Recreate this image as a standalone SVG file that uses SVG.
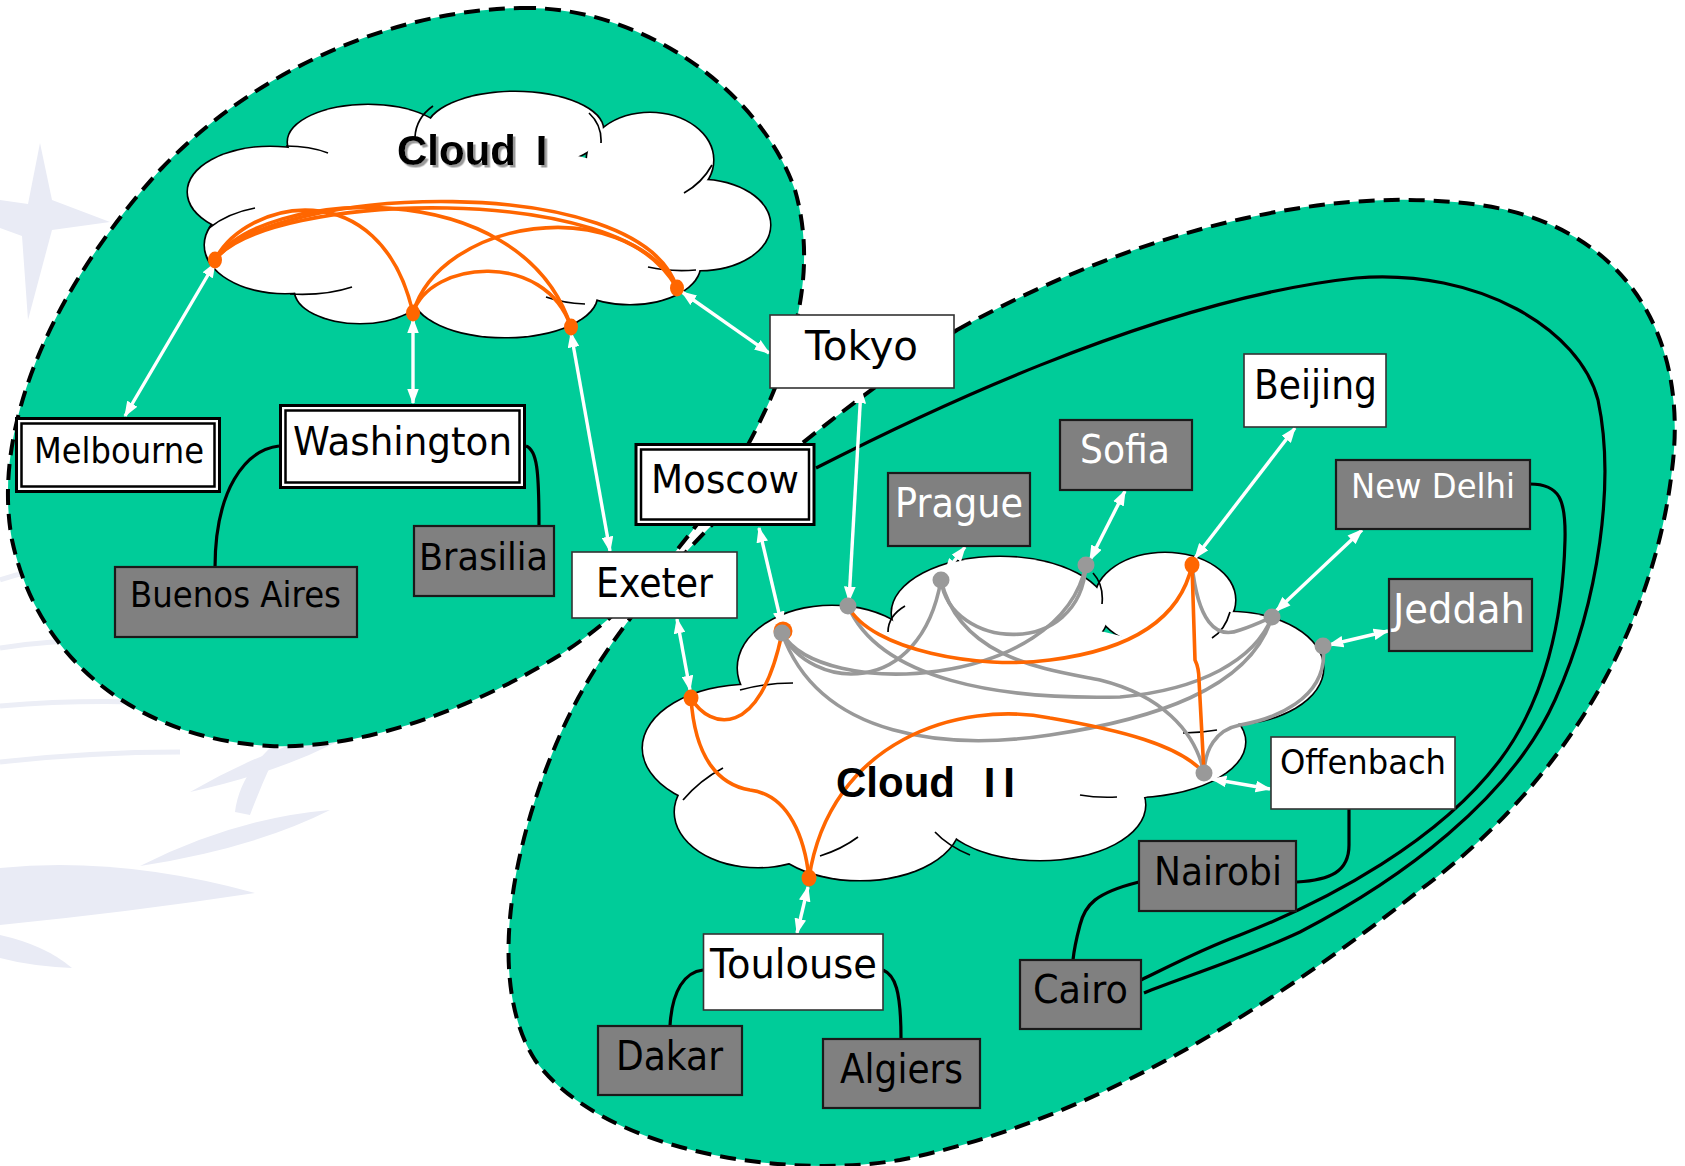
<svg xmlns="http://www.w3.org/2000/svg" width="1685" height="1166" viewBox="0 0 1685 1166">
<defs>
<style>
.blob{fill:#00CC99;stroke:#000;stroke-width:4;stroke-dasharray:16 9}
.cs{fill:#fff;stroke:#000;stroke-width:3.2}
.cf{fill:#fff}
.curl{fill:none;stroke:#000;stroke-width:1.7}
.or{fill:none;stroke:#FF6600;stroke-width:3.6}
.gr{fill:none;stroke:#999;stroke-width:3.6}
.bk{fill:none;stroke:#000;stroke-width:3.2}
.wa{fill:none;stroke:#fff;stroke-width:3.4;marker-start:url(#ah);marker-end:url(#ah)}
.od{fill:#FF6600}
.gd{fill:#999}
.wb{fill:#fff;stroke:#333;stroke-width:1.6}
.gb{fill:#808080;stroke:#1a1a1a;stroke-width:2.2}
.db{fill:#fff;stroke:#000;stroke-width:3}
.di{fill:none;stroke:#000;stroke-width:2.5}
.t{font-family:'DejaVu Sans',Verdana,sans-serif;fill:#000}
.tw{fill:#fff}
.ct{font-family:'Liberation Sans',Arial,sans-serif;font-weight:bold;font-size:42px;fill:#000}
.wm{fill:#e9ebf5}
.wl{fill:none;stroke:#eceef6;stroke-width:5}
</style>
<marker id="ah" viewBox="0 0 12 9" refX="11" refY="4.5" markerWidth="4.6" markerHeight="3.5" orient="auto-start-reverse" markerUnits="strokeWidth"><path d="M0,0 L12,4.5 L0,9 z" fill="#fff"/></marker>
<filter id="sh" x="-10%" y="-20%" width="130%" height="150%"><feDropShadow dx="2.5" dy="2.5" stdDeviation="0.4" flood-color="#9a9a9a" flood-opacity="1"/></filter>
</defs>
<rect width="1685" height="1166" fill="#fff"/>
<g id="watermark">
<path class="wm" d="M40 143 L52 200 L110 222 L52 230 L28 320 L22 236 L0 228 L0 200 L28 204 Z"/>
<path class="wl" d="M0 580 Q 30 570 60 566 M0 648 Q 50 640 110 640 M0 706 Q 70 700 140 702 M0 762 Q 90 752 180 752"/>
<path class="wm" d="M0 868 Q 120 856 255 893 Q 130 912 0 925 Z"/>
<path class="wm" d="M140 866 Q 235 818 330 810 Q 255 848 140 866 Z"/>
<path class="wm" d="M190 792 Q 280 740 372 722 Q 300 768 190 792 Z"/>
<path class="wm" d="M0 935 Q 45 945 72 968 Q 30 966 0 958 Z"/>
<path class="wm" d="M235 812 Q 240 770 285 735 Q 265 775 250 815 Z"/>
</g>
<g id="blob-1">
<path class="blob" d="M520 8 C 640 5, 760 90, 795 190 C 815 260, 800 330, 770 400 C 730 490, 660 590, 560 655 C 470 710, 360 750, 270 746 C 150 740, 40 670, 12 540 C -10 420, 60 280, 160 170 C 260 65, 400 10, 520 8 Z"/>
</g>
<g id="blob-2">
<path class="blob" d="M957 330 C 1100 250, 1300 180, 1480 205 C 1620 225, 1690 330, 1672 470 C 1655 620, 1570 780, 1420 890 C 1280 1000, 1100 1120, 900 1160 C 780 1180, 600 1150, 535 1060 C 490 990, 505 860, 560 735 C 610 620, 720 510, 800 445 C 850 405, 910 360, 957 330 Z"/>
</g>
<g id="cloud-1">
<g class="cs">
<ellipse cx="270" cy="192" rx="82" ry="45"/><ellipse cx="368" cy="142" rx="80" ry="37"/><ellipse cx="515" cy="130" rx="88" ry="38"/><ellipse cx="650" cy="160" rx="63" ry="47"/><ellipse cx="700" cy="225" rx="70" ry="45"/><ellipse cx="630" cy="265" rx="70" ry="39"/><ellipse cx="505" cy="295" rx="92" ry="42"/><ellipse cx="360" cy="290" rx="65" ry="33"/><ellipse cx="285" cy="245" rx="80" ry="48"/>
</g>
<g class="cf">
<ellipse cx="270" cy="192" rx="82" ry="45"/><ellipse cx="368" cy="142" rx="80" ry="37"/><ellipse cx="515" cy="130" rx="88" ry="38"/><ellipse cx="650" cy="160" rx="63" ry="47"/><ellipse cx="700" cy="225" rx="70" ry="45"/><ellipse cx="630" cy="265" rx="70" ry="39"/><ellipse cx="505" cy="295" rx="92" ry="42"/><ellipse cx="360" cy="290" rx="65" ry="33"/><ellipse cx="285" cy="245" rx="80" ry="48"/><ellipse cx="470" cy="215" rx="200" ry="70"/>
</g>
<path class="curl" d="M286 146 Q 310 146 328 153 M433 106 Q 416 118 415 137 M589 113 Q 602 125 601 143 M712 165 Q 702 183 684 193 M696 270 Q 670 272 648 267 M585 304 Q 563 303 546 297 M290 294 Q 325 296 352 287 M209 228 Q 228 213 255 208"/>
</g>
<g id="cloud-2">
<g class="cs">
<ellipse cx="832" cy="668" rx="94" ry="62"/><ellipse cx="1000" cy="613" rx="108" ry="56"/><ellipse cx="1165" cy="600" rx="70" ry="47"/><ellipse cx="1228" cy="668" rx="95" ry="56"/><ellipse cx="1130" cy="742" rx="115" ry="55"/><ellipse cx="1040" cy="805" rx="105" ry="55"/><ellipse cx="860" cy="822" rx="100" ry="58"/><ellipse cx="758" cy="812" rx="83" ry="55"/><ellipse cx="750" cy="748" rx="107" ry="63"/>
</g>
<g class="cf">
<ellipse cx="832" cy="668" rx="94" ry="62"/><ellipse cx="1000" cy="613" rx="108" ry="56"/><ellipse cx="1165" cy="600" rx="70" ry="47"/><ellipse cx="1228" cy="668" rx="95" ry="56"/><ellipse cx="1130" cy="742" rx="115" ry="55"/><ellipse cx="1040" cy="805" rx="105" ry="55"/><ellipse cx="860" cy="822" rx="100" ry="58"/><ellipse cx="758" cy="812" rx="83" ry="55"/><ellipse cx="750" cy="748" rx="107" ry="63"/><ellipse cx="985" cy="720" rx="250" ry="100"/>
</g>
<path class="curl" d="M740 690 Q 765 683 793 683 M905 606 Q 888 616 888 632 M1093 573 Q 1104 585 1102 604 M1230 612 Q 1225 630 1212 638 M1217 730 Q 1200 733 1183 733 M1117 797 Q 1097 798 1080 795 M970 855 Q 948 846 935 832 M820 856 Q 842 849 858 837 M683 800 Q 700 780 723 768"/>
</g>
<g id="connectors">
<g class="or">
<path d="M215 260 C 245 200, 380 170, 413 313"/>
<path d="M215 260 C 260 190, 520 170, 571 327"/>
<path d="M215 260 C 270 185, 640 170, 677 288"/>
<path d="M215 260 C 265 192, 630 180, 677 288"/>
<path d="M413 313 C 440 220, 620 190, 677 288"/>
<path d="M413 313 C 430 260, 545 250, 571 327"/>
</g>
<g class="gr">
<path d="M782 633 C 810 690, 920 700, 941 580"/>
<path d="M782 633 C 820 700, 1060 690, 1086 565"/>
<path d="M782 633 C 820 740, 950 750, 1050 735 C 1150 720, 1250 690, 1272 617"/>
<path d="M848 606 C 880 680, 1000 700, 1120 697 C 1200 690, 1255 660, 1272 617"/>
<path d="M941 580 C 950 650, 1080 660, 1086 565"/>
<path d="M941 580 C 960 660, 1050 670, 1100 680 C 1160 695, 1195 730, 1204 773"/>
<path d="M1192 565 C 1198 620, 1215 640, 1240 630 C 1255 625, 1265 620, 1272 617"/>
<path d="M1323 646 C 1330 700, 1270 720, 1240 725 C 1215 730, 1205 750, 1204 773"/>
</g>
<g class="or">
<path d="M691 698 C 710 730, 760 740, 782 633"/>
<path d="M691 698 C 695 760, 720 785, 750 790 C 790 795, 805 840, 809 878"/>
<path d="M809 878 C 830 740, 960 700, 1050 718 C 1120 730, 1180 745, 1204 773"/>
<path d="M848 606 C 870 650, 980 670, 1050 660 C 1130 650, 1180 620, 1192 565"/>
<path d="M1192 565 L 1195 660 Q 1199 668 1199 680 L 1204 773"/>
</g>
<g class="bk">
<path d="M279 446 C 245 450, 215 490, 215 568"/>
<path d="M526 446 C 537 450, 539 470, 539 526"/>
<path d="M816 468 C 900 425, 1150 300, 1356 278 C 1480 268, 1580 330, 1598 400 C 1615 480, 1600 600, 1555 700 C 1510 800, 1400 880, 1300 932 C 1240 960, 1180 978, 1144 993"/>
<path d="M1530 484 C 1560 484, 1566 500, 1565 540 C 1563 620, 1545 700, 1500 760 C 1440 840, 1330 900, 1240 935 C 1200 950, 1170 966, 1141 980"/>
<path d="M1349 809 L 1349 845 C 1349 872, 1330 880, 1297 882"/>
<path d="M1139 882 C 1095 893, 1085 905, 1080 925 C 1076 940, 1074 950, 1073 960"/>
<path d="M703 970 C 685 972, 672 990, 670 1026"/>
<path d="M883 970 C 895 975, 901 990, 901 1039"/>
</g>
<g class="wa">
<path d="M215 263 L 125 416"/>
<path d="M413 319 L 413 403"/>
<path d="M571 333 L 610 551"/>
<path d="M682 292 L 769 353"/>
<path d="M759 528 L 782 626"/>
<path d="M861 389 L 849 601"/>
<path d="M965 547 L 945 573"/>
<path d="M1125 491 L 1090 560"/>
<path d="M1295 428 L 1195 558"/>
<path d="M1362 530 L 1276 611"/>
<path d="M1388 631 L 1329 645"/>
<path d="M1212 779 L 1270 789"/>
<path d="M677 619 L 690 690"/>
<path d="M808 887 L 797 933"/>
</g>
<g class="od">
<ellipse cx="215" cy="260" rx="7" ry="8.5"/><ellipse cx="413" cy="313" rx="7" ry="8.5"/><ellipse cx="571" cy="327" rx="7" ry="8.5"/><ellipse cx="677" cy="288" rx="7" ry="8.5"/>
<ellipse cx="691" cy="698" rx="7.5" ry="8.5"/><ellipse cx="809" cy="878" rx="7.5" ry="8.5"/><ellipse cx="1192" cy="565" rx="7.5" ry="8.5"/><circle cx="783" cy="631" r="9.5"/>
</g>
<g class="gd">
<circle cx="782" cy="633" r="8.5"/><circle cx="848" cy="606" r="8.5"/><circle cx="941" cy="580" r="8.5"/><circle cx="1086" cy="565" r="8.5"/><circle cx="1272" cy="617" r="8.5"/><circle cx="1323" cy="646" r="8.5"/><circle cx="1204" cy="773" r="8.5"/>
</g>
</g>
<g id="node-melbourne"><rect class="db" x="16.5" y="418.5" width="203" height="73"/><rect class="di" x="21.5" y="423.5" width="193" height="63"/><text class="t" x="34" y="463" font-size="35" textLength="170" lengthAdjust="spacingAndGlyphs">Melbourne</text></g>
<g id="node-washington"><rect class="db" x="280.5" y="405.5" width="244" height="82"/><rect class="di" x="285.5" y="410.5" width="234" height="72"/><text class="t" x="293" y="455" font-size="39" textLength="219" lengthAdjust="spacingAndGlyphs">Washington</text></g>
<g id="node-moscow"><rect class="db" x="636" y="444.5" width="178" height="80"/><rect class="di" x="641" y="449.5" width="168" height="70"/><text class="t" x="651" y="493" font-size="39" textLength="148" lengthAdjust="spacingAndGlyphs">Moscow</text></g>
<g id="node-buenos-aires"><rect class="gb" x="115" y="567" width="242" height="70"/><text class="t" x="130" y="607" font-size="36" textLength="211" lengthAdjust="spacingAndGlyphs" fill="#111">Buenos Aires</text></g>
<g id="node-brasilia"><rect class="gb" x="414" y="526" width="140" height="70"/><text class="t" x="419" y="570" font-size="37" textLength="129" lengthAdjust="spacingAndGlyphs">Brasilia</text></g>
<g id="node-exeter"><rect class="wb" x="572" y="552" width="165" height="66"/><text class="t" x="596" y="597" font-size="40" textLength="117" lengthAdjust="spacingAndGlyphs">Exeter</text></g>
<g id="node-tokyo"><rect class="wb" x="770" y="315" width="184" height="73"/><text class="t" x="805" y="360" font-size="41" textLength="113" lengthAdjust="spacingAndGlyphs">Tokyo</text></g>
<g id="node-prague"><rect class="gb" x="888" y="473" width="142" height="73"/><text class="t tw" x="895" y="517" font-size="40" textLength="128" lengthAdjust="spacingAndGlyphs">Prague</text></g>
<g id="node-sofia"><rect class="gb" x="1060" y="420" width="132" height="70"/><text class="t tw" x="1080" y="463" font-size="39" textLength="90" lengthAdjust="spacingAndGlyphs">Sofia</text></g>
<g id="node-beijing"><rect class="wb" x="1244" y="354" width="142" height="73"/><text class="t" x="1254" y="399" font-size="41" textLength="123" lengthAdjust="spacingAndGlyphs">Beijing</text></g>
<g id="node-new-delhi"><rect class="gb" x="1336" y="460" width="194" height="69"/><text class="t tw" x="1351" y="498" font-size="34" textLength="164" lengthAdjust="spacingAndGlyphs">New Delhi</text></g>
<g id="node-jeddah"><rect class="gb" x="1389" y="579" width="143" height="72"/><text class="t tw" x="1393" y="623" font-size="40" textLength="132" lengthAdjust="spacingAndGlyphs">Jeddah</text></g>
<g id="node-offenbach"><rect class="wb" x="1271" y="737" width="184" height="72"/><text class="t" x="1280" y="774" font-size="34" textLength="166" lengthAdjust="spacingAndGlyphs">Offenbach</text></g>
<g id="node-nairobi"><rect class="gb" x="1139" y="841" width="157" height="70"/><text class="t" x="1154" y="885" font-size="39" textLength="128" lengthAdjust="spacingAndGlyphs">Nairobi</text></g>
<g id="node-cairo"><rect class="gb" x="1020" y="960" width="121" height="69"/><text class="t" x="1033" y="1003" font-size="39" textLength="95" lengthAdjust="spacingAndGlyphs">Cairo</text></g>
<g id="node-toulouse"><rect class="wb" x="703.5" y="934" width="179.5" height="76"/><text class="t" x="710" y="978" font-size="40" textLength="167" lengthAdjust="spacingAndGlyphs">Toulouse</text></g>
<g id="node-dakar"><rect class="gb" x="598" y="1026" width="144" height="69"/><text class="t" x="616" y="1070" font-size="40" textLength="107" lengthAdjust="spacingAndGlyphs">Dakar</text></g>
<g id="node-algiers"><rect class="gb" x="823" y="1039" width="157" height="69"/><text class="t" x="840" y="1083" font-size="40" textLength="123" lengthAdjust="spacingAndGlyphs">Algiers</text></g>
<g id="label-cloud-1"><text class="ct" x="397" y="165" filter="url(#sh)">Cloud <tspan dx="8">I</tspan></text></g>
<g id="label-cloud-2"><text class="ct" x="836" y="797">Cloud <tspan dx="17" letter-spacing="8">II</tspan></text></g>
</svg>
